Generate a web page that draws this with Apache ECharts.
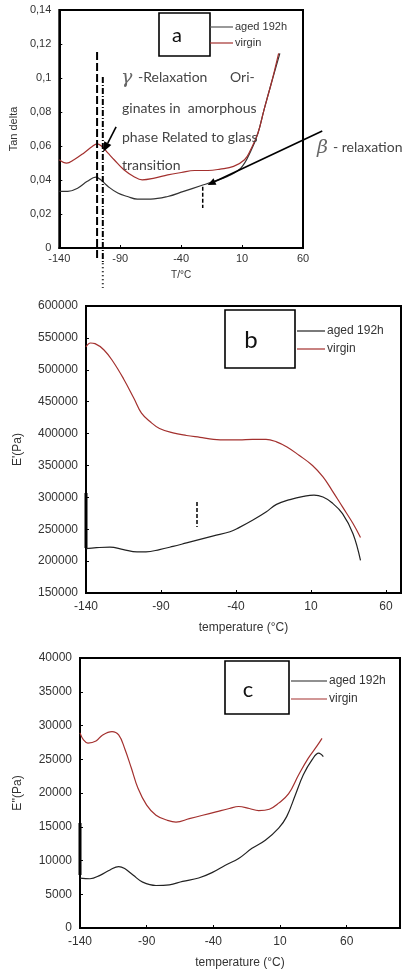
<!DOCTYPE html>
<html>
<head>
<meta charset="utf-8">
<script src="https://cdn.jsdelivr.net/npm/echarts@6/dist/echarts.min.js"></script>
<style>
html,body{margin:0;padding:0;background:#fff}
#main{width:408px;height:972px}
</style>
</head>
<body>
<div id="main"></div>
<script>
// (a) tan delta vs T
var aAgedT = [-140,-133,-125,-117,-110,-106,-100,-92,-84,-76,-65,-51,-38,-24,-13,-2,9,17,23,28,34,41];
var aAgedV = [0.0333,0.0333,0.0352,0.0392,0.0417,0.0401,0.0362,0.0323,0.0303,0.0288,0.0288,0.0303,0.0333,0.0366,0.0392,0.0421,0.047,0.0568,0.0675,0.0813,0.0969,0.1145];
var aVirginT = [-140,-134,-128,-120,-113,-109,-105,-100,-95,-87,-79,-72,-62,-51,-40,-29,-18,-8,3,12,17,23,28,34,40];
var aVirginV = [0.0519,0.0499,0.0519,0.0558,0.0597,0.0613,0.0597,0.0558,0.0519,0.046,0.0421,0.0401,0.0411,0.043,0.0444,0.0456,0.0456,0.0464,0.048,0.0519,0.0578,0.0675,0.0813,0.0969,0.1145];

// (b) E' vs temperature
var bAgedT = [-140,-133,-124,-115,-106,-100,-91,-82,-73,-64,-55,-44,-38,-29,-20,-13,-4,5,12,18,24,31,38,43];
var bAgedV = [219500,221000,222000,218000,214500,214500,218000,223000,228500,234000,239500,246000,252500,264000,277000,289000,296500,301500,303500,300500,291500,274500,243000,201000];
var bVirginT = [-140,-137,-134,-128,-122,-115,-108,-103,-97,-91,-82,-73,-64,-55,-46,-38,-29,-20,-13,-6,2,11,18,24,31,38,43];
var bVirginV = [536000,542000,541000,531000,513000,486000,455000,432000,418000,408000,401000,397000,394000,391000,390000,390000,391000,391000,387000,379000,366000,350000,332000,311000,285000,259000,237000];

// (c) E'' vs temperature
var cAgedT = [-140,-132.5,-125,-117.5,-111,-106.5,-100,-93,-83,-73,-63,-51,-41,-31,-21,-11,-1,9,15,21.5,27.5,34,39,42.5];
var cAgedV = [7400,7300,7800,8600,9100,8800,7800,6800,6300,6400,6900,7400,8200,9300,10300,11800,13000,14800,16500,19700,22700,24900,25900,25400];
var cVirginT = [-140,-137.5,-134,-128,-123,-116,-111,-106.5,-101.5,-96.5,-90,-83,-75,-68,-58,-48,-38,-28,-21,-13,-6,2,9,16.5,24,31,37.5,41.5];
var cVirginV = [28900,27900,27400,27700,28600,29100,28600,26600,23700,20700,18200,16700,16000,15700,16200,16700,17200,17700,18000,17700,17400,17600,18500,19900,22700,25100,26900,28100];

var seriesNames = ['aged 192h', 'virgin'];
var panelLetters = ['a', 'b', 'c'];

var RED = '#a3302e';
var DARK = '#222';
var FONT = 'Liberation Sans, Arial, sans-serif';

function pairs(xs, ys){
    var out = [];
    for(var i=0;i<xs.length;i++){
        out.push([xs[i], ys[i]]);
    }
    return out;
}

function line(name, g, xs, ys, color){
    return {
        name: name,
        type: 'line',
        xAxisIndex: g,
        yAxisIndex: g,
        data: pairs(xs, ys),
        smooth: 0.4,
        symbol: 'none',
        lineStyle: {color: color, width: 1.2},
        itemStyle: {color: color}
    };
}

function xAx(g, max, name, gap){
    return {
        gridIndex: g, type: 'value', min: -140, max: max, interval: 50,
        name: name, nameLocation: 'middle', nameGap: gap,
        nameTextStyle: {color: '#333', fontSize: g == 0 ? 10 : 12, fontFamily: FONT},
        axisLine: {onZero: false, lineStyle: {color: '#000', width: 2}},
        axisTick: {inside: true, length: 3, lineStyle: {color: '#000'}},
        axisLabel: {color: '#333', fontSize: g == 0 ? 11 : 12, fontFamily: FONT, margin: g == 0 ? 5 : 8, showMaxLabel: max == 60},
        splitLine: {show: false}
    };
}

function yAx(g, min, max, interval, name, gap, fmt){
    return {
        gridIndex: g, type: 'value', min: min, max: max, interval: interval,
        name: name, nameLocation: 'middle', nameGap: gap, nameRotate: 90,
        nameTextStyle: {color: '#333', fontSize: g == 0 ? 11 : 12, fontFamily: FONT},
        axisLine: {onZero: false, lineStyle: {color: '#000', width: 2}},
        axisTick: {inside: true, length: 3, lineStyle: {color: '#000'}},
        axisLabel: {color: '#333', fontSize: g == 0 ? 11 : 12, fontFamily: FONT, margin: 8,
            formatter: fmt || function(v){ return String(v); }},
        splitLine: {show: false}
    };
}

var myChart = echarts.init(document.getElementById('main'));
var option = {
    animation: false,
    backgroundColor: '#fff',
    grid: [
        {left: 58, top: 10, width: 245, height: 238, show: true, borderColor: '#000', borderWidth: 2},
        {left: 86, top: 306, width: 315, height: 287, show: true, borderColor: '#000', borderWidth: 2},
        {left: 80, top: 658, width: 320, height: 270, show: true, borderColor: '#000', borderWidth: 2}
    ],
    xAxis: [
        xAx(0, 60, 'T/°C', 22),
        xAx(1, 70, 'temperature (°C)', 29),
        xAx(2, 100, 'temperature (°C)', 29)
    ],
    yAxis: [
        yAx(0, 0, 0.14, 0.02, 'Tan delta', 38, function(v){ return String(+v.toFixed(2)).replace('.', ','); }),
        yAx(1, 150000, 600000, 50000, "E'(Pa)", 62),
        yAx(2, 0, 40000, 5000, "E''(Pa)", 56)
    ],
    series: [
        line(seriesNames[0], 0, aAgedT, aAgedV, '#333'),
        line(seriesNames[1], 0, aVirginT, aVirginV, RED),
        line(seriesNames[0], 1, bAgedT, bAgedV, DARK),
        line(seriesNames[1], 1, bVirginT, bVirginV, RED),
        line(seriesNames[0], 2, cAgedT, cAgedV, DARK),
        line(seriesNames[1], 2, cVirginT, cVirginV, RED)
    ]
};
myChart.setOption(option);

// annotations, placed in data coordinates
function px(g, x, y){
    return myChart.convertToPixel({gridIndex: g}, [x, y]);
}
function seg(g, x1, y1, x2, y2, w, dash, color){
    var p = px(g, x1, y1), q = px(g, x2, y2);
    return {type: 'line', z: 100, shape: {x1: p[0], y1: p[1], x2: q[0], y2: q[1]},
        style: {stroke: color || '#000', lineWidth: w, lineDash: dash || null}};
}
function arrow(g, x1, y1, x2, y2, len, wid){
    var p = px(g, x1, y1), q = px(g, x2, y2);
    var dx = q[0]-p[0], dy = q[1]-p[1], d = Math.sqrt(dx*dx+dy*dy);
    var ux = dx/d, uy = dy/d;
    var bx = q[0]-ux*len, by = q[1]-uy*len;
    return [
        {type: 'line', z: 100, shape: {x1: p[0], y1: p[1], x2: bx, y2: by}, style: {stroke: '#000', lineWidth: 1.6}},
        {type: 'polygon', z: 100, shape: {points: [[q[0], q[1]], [bx-uy*wid/2, by+ux*wid/2], [bx+uy*wid/2, by-ux*wid/2]]}, style: {fill: '#000'}}
    ];
}
function txt(x, y, s, size, font, color, style){
    return {type: 'text', z: 100, x: x, y: y,
        style: {text: s, fill: color || '#444', font: (style || '') + ' ' + size + 'px ' + font, textVerticalAlign: 'middle'}};
}
function legendBox(i, bx, by, bw, bh, lx, ly, lsize, lineX1, lineX2, y1, y2, tsize){
    return [
        {type: 'rect', z: 100, shape: {x: bx, y: by, width: bw, height: bh}, style: {fill: '#fff', stroke: '#000', lineWidth: 1.6}},
        {type: 'text', z: 101, x: lx, y: ly, style: {text: panelLetters[i], fill: '#111', font: lsize + 'px Lato, sans-serif', textAlign: 'center', textVerticalAlign: 'middle'}},
        {type: 'line', z: 100, shape: {x1: lineX1, y1: y1, x2: lineX2, y2: y1}, style: {stroke: i == 0 ? '#555' : DARK, lineWidth: 1.2}},
        {type: 'line', z: 100, shape: {x1: lineX1, y1: y2, x2: lineX2, y2: y2}, style: {stroke: RED, lineWidth: 1.2}},
        txt(lineX2 + 2, y1, seriesNames[0], tsize, FONT, '#333'),
        txt(lineX2 + 2, y2, seriesNames[1], tsize, FONT, '#333')
    ];
}

var LATO = 'Lato, "Open Sans", sans-serif';
var SERIF = '"DejaVu Serif", "Liberation Serif", serif';
var gfx = [];
// panel a
gfx.push(seg(0, -109, 0.1153, -109, -0.006, 2, [8, 3]));
gfx.push(seg(0, -104.3, 0.1006, -104.3, -0.009, 2, [6, 2, 1, 2]));
gfx.push(seg(0, -104.3, -0.009, -104.3, -0.0235, 2, [1, 3]));
gfx = gfx.concat(arrow(0, -93.4, 0.0712, -104, 0.0565, 10, 8));
gfx = gfx.concat(arrow(0, 75.8, 0.0688, -18.2, 0.0371, 8, 7));
gfx.push(seg(0, -22.3, 0.036, -22.3, 0.0235, 1.5, [4, 2]));
gfx.push(txt(121, 78, 'γ', 19, SERIF, '#666', 'italic'));
gfx.push(txt(138, 77, '-Relaxation', 14, LATO));
gfx.push(txt(230, 77, 'Ori-', 14, LATO));
gfx.push(txt(122, 108, 'ginates in  amorphous', 14, LATO));
gfx.push(txt(122, 137, 'phase Related to glass', 14, LATO));
gfx.push(txt(122, 165, 'transition', 14, LATO));
gfx.push(txt(317, 148, 'β', 19, SERIF, '#666', 'italic'));
gfx.push(txt(333, 147, '- relaxation', 14, LATO));
gfx = gfx.concat(legendBox(0, 159, 13, 51, 43, 177, 36, 20, 210, 233, 27, 43, 11));
// panel b
gfx.push(seg(1, -140, 306800, -140, 220500, 3));
gfx.push(seg(1, -66, 292700, -66, 253500, 1.5, [4, 2]));
gfx = gfx.concat(legendBox(1, 225, 310, 70, 58, 251, 340, 24, 297, 325, 331, 349, 12));
// panel c
gfx.push(seg(2, -140, 15560, -140, 7850, 3));
gfx = gfx.concat(legendBox(2, 225, 661, 64, 53, 248, 690, 22, 291, 327, 681, 699, 12));

myChart.setOption({graphic: gfx});
</script>
</body>
</html>
